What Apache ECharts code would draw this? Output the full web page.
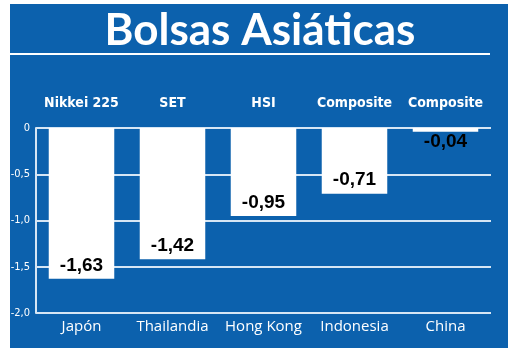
<!DOCTYPE html>
<html style="height: 100%">
<head>
<meta charset="utf-8">
<script src="https://cdn.jsdelivr.net/npm/echarts@6/dist/echarts.min.js"></script>
</head>
<body style="height: 100%; margin: 0; background: #fff">
<div id="container" style="width: 520px; height: 352px"></div>
<script type="text/javascript">
// datos
var paises = ['Japón', 'Thailandia', 'Hong Kong', 'Indonesia', 'China'];
var indices = ['Nikkei 225', 'SET', 'HSI', 'Composite', 'Composite'];
var variacion = [-1.63, -1.42, -0.95, -0.71, -0.04];
var ejeY = [0, -0.5, -1.0, -1.5, -2.0];

var azul = '#0c61ad';
var coma = function (v) { return v.toFixed(2).replace('.', ','); };

var myChart = echarts.init(document.getElementById('container'));

var option = {
    animation: false,
    backgroundColor: '#fff',
    graphic: [
        { type: 'rect', z: -10, shape: { x: 10, y: 4, width: 498, height: 344 }, style: { fill: azul } },
        { type: 'line', z: -5, shape: { x1: 10, y1: 54, x2: 490, y2: 54 }, style: { stroke: '#fff', lineWidth: 2 } },
        { type: 'text', left: 'center', top: 9, z: 5,
          style: { text: 'Bolsas Asiáticas', fill: '#fff', font: 'bold 44px Lato' } }
    ],
    grid: { left: 36, right: 29, top: 128, bottom: 39 },
    xAxis: [
        {
            type: 'category', data: paises, position: 'bottom',
            axisLine: { show: false }, axisTick: { show: false },
            axisLabel: { interval: 0, color: '#fff', fontFamily: 'Open Sans', fontSize: 15, margin: 6 }
        },
        {
            type: 'category', data: indices, position: 'top',
            axisLine: { show: false }, axisTick: { show: false },
            axisLabel: { interval: 0, color: '#fff', fontFamily: 'DejaVu Sans Condensed', fontWeight: 'bold', fontSize: 14, margin: 18 }
        }
    ],
    yAxis: {
        type: 'value', min: ejeY[4], max: ejeY[0], interval: 0.5,
        axisLine: { show: true, lineStyle: { color: '#d6e6f5', width: 2 } },
        axisTick: { show: false },
        splitLine: { lineStyle: { color: '#d6e6f5', width: 2 } },
        axisLabel: {
            color: '#fff', fontFamily: 'DejaVu Sans Condensed', fontSize: 11, margin: 6,
            formatter: function (v) { return v === 0 ? '0' : v.toFixed(1).replace('.', ','); }
        }
    },
    series: [{
        type: 'bar',
        xAxisIndex: 0,
        barWidth: '72%',
        itemStyle: { color: '#fff' },
        data: variacion.map(function (v) {
            return {
                value: v,
                label: { position: v > -0.3 ? 'bottom' : 'insideBottom', distance: v > -0.3 ? 1 : 4 }
            };
        }),
        label: {
            show: true, color: '#000', fontFamily: 'Liberation Sans', fontWeight: 'bold', fontSize: 19,
            formatter: function (p) { return coma(p.value); }
        }
    }]
};

myChart.setOption(option);
</script>
</body>
</html>
